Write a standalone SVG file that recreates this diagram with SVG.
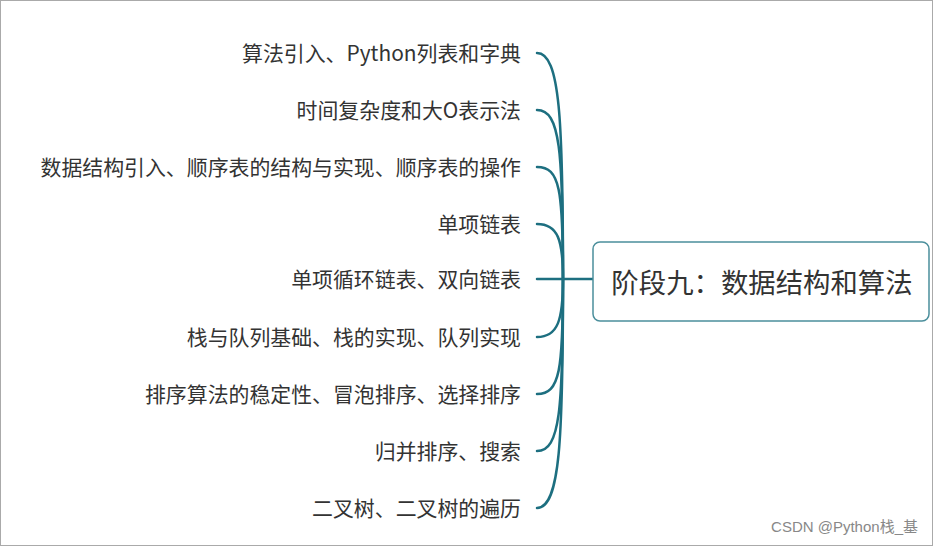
<svg xmlns="http://www.w3.org/2000/svg" width="934" height="547" viewBox="0 0 934 547">
<style>
.t{font-family:"Noto Sans CJK SC","Liberation Sans",sans-serif;font-size:20.9px;fill:#333;text-anchor:end}
.c{fill:none;stroke:#1d6f80;stroke-width:2.5;stroke-linecap:round}
</style>
<rect x="0.5" y="0.5" width="932" height="545" fill="#fff" stroke="#aaa"/>
<g id="connectors">
<path class="c" d="M563,279 C563,120 560,53 537,53"/>
<path class="c" d="M563,279 C563,150 560,110 537,110"/>
<path class="c" d="M563,279 C563,190 560,167 537,167"/>
<path class="c" d="M563,279 C563,240 558,224 537,224"/>
<path class="c" d="M537,279 L593,279"/>
<path class="c" d="M563,279 C563,320 558,337 537,337"/>
<path class="c" d="M563,279 C563,370 560,394 537,394"/>
<path class="c" d="M563,279 C563,410 560,451 537,451"/>
<path class="c" d="M563,279 C563,440 560,508 537,508"/>
</g>
<g id="root">
<rect x="593" y="242" width="336" height="79" rx="7" fill="#fff" stroke="#4b8f9c" stroke-width="1.5"/>
<text x="762" y="293" style="font-family:'Noto Sans CJK SC','Liberation Sans',sans-serif;font-size:27.4px;fill:#333;text-anchor:middle">阶段九：数据结构和算法</text>
</g>
<g id="n1"><text class="t" x="521" y="61">算法引入、Python列表和字典</text></g>
<g id="n2"><text class="t" x="521" y="118">时间复杂度和大O表示法</text></g>
<g id="n3"><text class="t" x="521" y="175">数据结构引入、顺序表的结构与实现、顺序表的操作</text></g>
<g id="n4"><text class="t" x="521" y="232">单项链表</text></g>
<g id="n5"><text class="t" x="521" y="287">单项循环链表、双向链表</text></g>
<g id="n6"><text class="t" x="521" y="345">栈与队列基础、栈的实现、队列实现</text></g>
<g id="n7"><text class="t" x="521" y="402">排序算法的稳定性、冒泡排序、选择排序</text></g>
<g id="n8"><text class="t" x="521" y="459">归并排序、搜索</text></g>
<g id="n9"><text class="t" x="521" y="516">二叉树、二叉树的遍历</text></g>
<text x="918" y="532" style="font-family:'Liberation Sans','Noto Sans CJK SC',sans-serif;font-size:15px;fill:#888;text-anchor:end">CSDN @Python栈_基</text>
</svg>
